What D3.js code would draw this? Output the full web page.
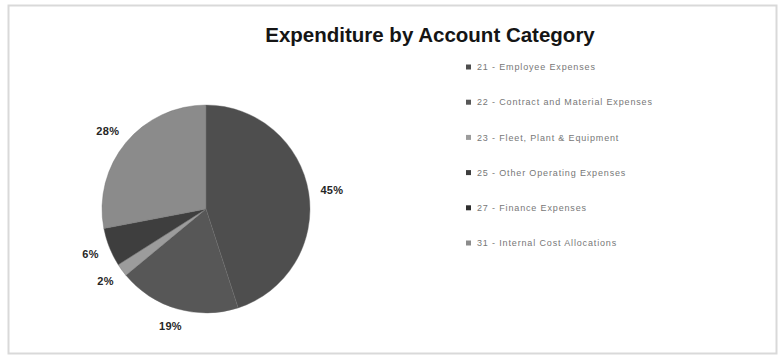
<!DOCTYPE html>
<html>
<head>
<meta charset="utf-8">
<script src="https://cdn.jsdelivr.net/npm/d3@7"></script>
<style>
  html, body { margin: 0; padding: 0; background: #fff; }
  svg { display: block; }
  .title { font-family: "Liberation Sans", Arial, sans-serif; font-weight: bold; font-size: 20.5px; fill: #151515; }
  .slice-label { font-family: "Liberation Sans", Arial, sans-serif; font-weight: bold; font-size: 11px; fill: #262626; letter-spacing: 0.3px; }
  .legend-label { font-family: "Liberation Sans", Arial, sans-serif; font-size: 9px; fill: #777; letter-spacing: 0.85px; }
</style>
</head>
<body>
<div id="chart"></div>
<script>
// Data
const categories = [
    '21 - Employee Expenses',
    '22 - Contract and Material Expenses',
    '23 - Fleet, Plant & Equipment',
    '25 - Other Operating Expenses',
    '27 - Finance Expenses',
    '31 - Internal Cost Allocations'
];
const shares = [45, 19, 2, 6, 0, 28];
const sliceColors = ['#4e4e4e', '#575757', '#9c9c9c', '#3e3e3e', '#2e2e2e', '#8b8b8b'];

const width = 778, height = 357;
const cx = 206, cy = 209, radius = 104;

const svg = d3.select('#chart').append('svg')
    .attr('width', width)
    .attr('height', height);

// Chart area border
svg.append('rect')
    .attr('x', 8.5).attr('y', 5.5)
    .attr('width', 768).attr('height', 348)
    .attr('fill', '#fff')
    .attr('stroke', '#d9d9d9')
    .attr('stroke-width', 2);

svg.append('text')
    .attr('class', 'title')
    .attr('x', 430)
    .attr('y', 42)
    .attr('text-anchor', 'middle')
    .text('Expenditure by Account Category');

const data = categories.map((name, i) => ({ name, value: shares[i], color: sliceColors[i] }));

const pie = d3.pie()
    .sort(null)
    .value(d => d.value);

const arc = d3.arc()
    .innerRadius(0)
    .outerRadius(radius);

const arcs = pie(data);

const pieGroup = svg.append('g')
    .attr('transform', `translate(${cx},${cy})`);

pieGroup.selectAll('path')
    .data(arcs.filter(d => d.data.value > 0))
    .enter()
    .append('path')
    .attr('d', arc)
    .attr('fill', d => d.data.color)
    .attr('stroke', '#6a6a6a')
    .attr('stroke-width', 0.4);

// Outside-end labels
const labels = pieGroup.selectAll('text')
    .data(arcs.filter(d => d.data.value > 0))
    .enter()
    .append('text')
    .attr('class', 'slice-label')
    .attr('text-anchor', 'middle')
    .attr('dy', '0.35em')
    .text(d => d.data.value + '%');

labels.each(function(d) {
    const bb = this.getBBox();
    const mid = (d.startAngle + d.endAngle) / 2;
    const s = Math.sin(mid), c = Math.cos(mid);
    const r = radius + 11;
    const x = r * s + (bb.width / 2 + 1) * s;
    const y = -r * c - (bb.height / 2 + 1) * c;
    d3.select(this).attr('x', x).attr('y', y);
});

// Legend
const legendY = d3.scalePoint()
    .domain(categories)
    .range([67, 243]);

const legend = svg.append('g')
    .selectAll('g')
    .data(data)
    .enter()
    .append('g')
    .attr('transform', d => `translate(466,${legendY(d.name)})`);

legend.append('rect')
    .attr('x', 0)
    .attr('y', -2.5)
    .attr('width', 5)
    .attr('height', 5)
    .attr('fill', d => d.color);

legend.append('text')
    .attr('class', 'legend-label')
    .attr('x', 11)
    .attr('dy', '0.35em')
    .text(d => d.name);
</script>
</body>
</html>
